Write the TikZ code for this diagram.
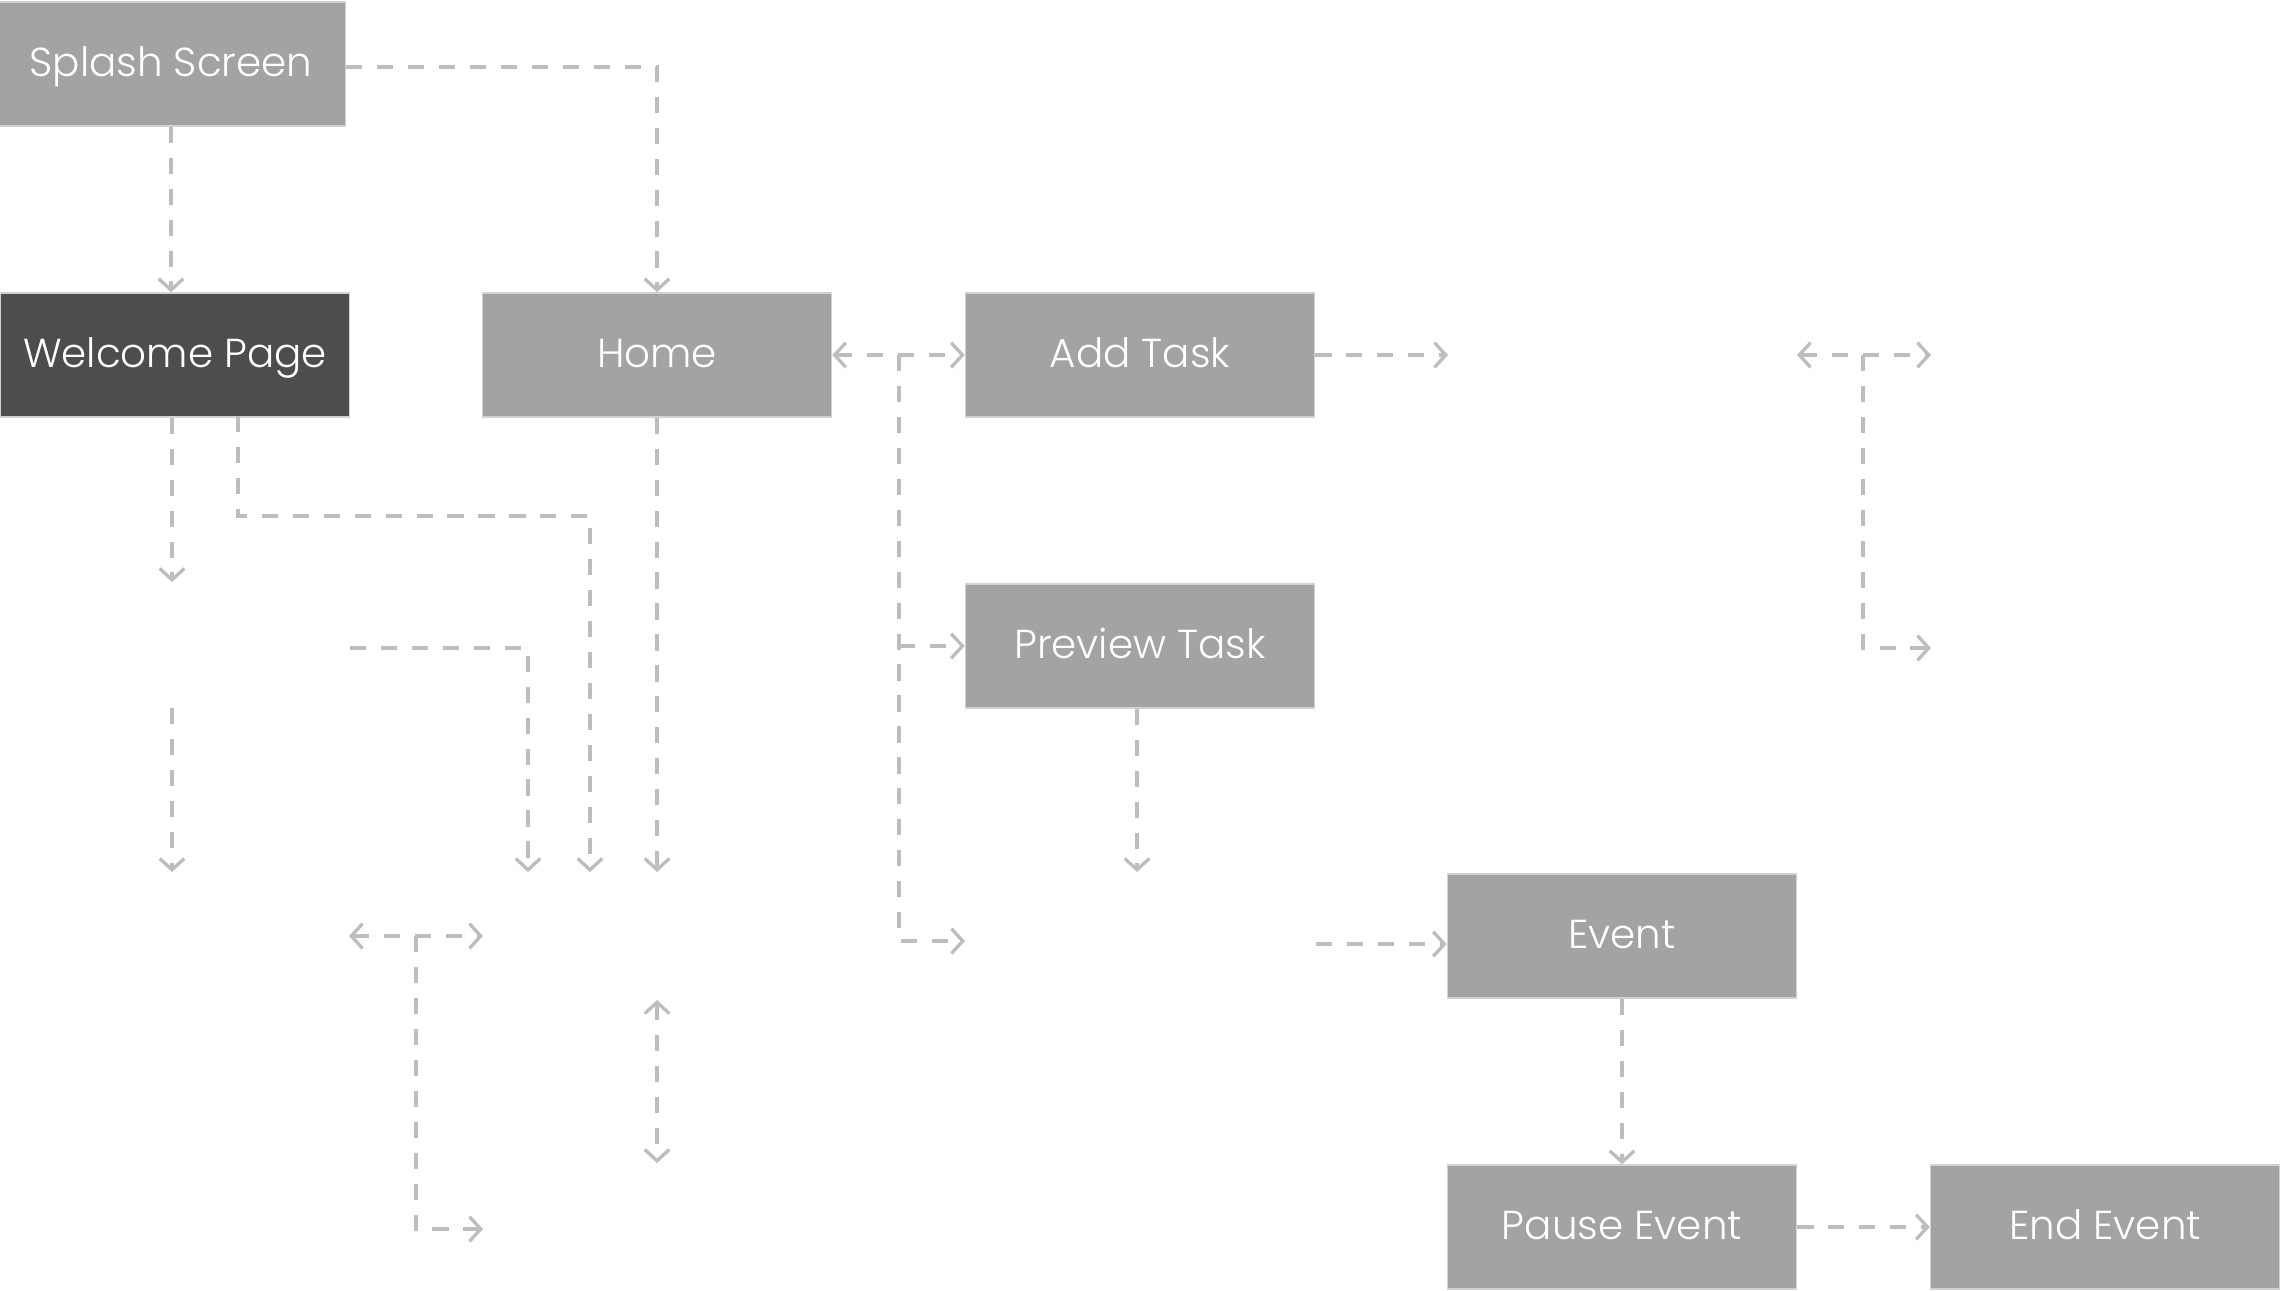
\documentclass[tikz,border=0pt]{standalone}
\usepackage{fontspec}
\setmainfont{Poppins}[UprightFont={* Light}]
\usetikzlibrary{arrows.meta}

\definecolor{boxgray}{HTML}{A3A3A3}
\definecolor{boxdark}{HTML}{4D4D4D}
\definecolor{boxedge}{HTML}{D2D2D2}
\definecolor{linkgray}{HTML}{BDBDBD}

\begin{document}
\begin{tikzpicture}[x=0.01cm, y=-0.01cm, >={Straight Barb[length=3.2pt, width=7pt]}, font=\fontsize{11.5}{14}\selectfont]
    \tikzstyle{screen}=[rectangle, minimum width=3.49cm, minimum height=1.24cm, inner sep=0pt, text height=0.7em, text depth=0pt, fill=boxgray, draw=boxedge, line width=0.4pt, text=white]  % grey screen boxes
    \tikzstyle{start screen}=[screen, fill=boxdark];
    \tikzstyle{link}=[draw=linkgray, line width=0.95pt, dash pattern=on 4.6pt off 4.2pt]

    \useasboundingbox (0,0) rectangle (2280,1290);

    % Screens
    \node[screen] (splash) at (171,64) {Splash Screen};
    \node[start screen] (welcome) at (175,355) {Welcome Page};
    \node[screen] (home) at (657,355) {Home};
    \node[screen] (addtask) at (1140,355) {Add Task};
    \node[screen] (preview) at (1140,646) {Preview Task};
    \node[screen] (event) at (1622,936) {Event};
    \node[screen] (pause) at (1622,1227) {Pause Event};
    \node[screen] (endevent) at (2105,1227) {End Event};

    % Loose ends (targets not shown)
    \coordinate (welcome-a) at (172,582);
    \coordinate (welcome-b) at (590,872);
    \coordinate (home-a) at (657,872);
    \coordinate (side-a) at (350,648);
    \coordinate (side-b) at (528,872);
    \coordinate (side-c) at (172,708);
    \coordinate (side-d) at (172,872);
    \coordinate (pair-l) at (349,936);
    \coordinate (pair-r) at (483,936);
    \coordinate (pair-m) at (416,936);
    \coordinate (pair-e) at (483,1229);
    \coordinate (updown-a) at (657,1000);
    \coordinate (updown-b) at (657,1163);
    \coordinate (task-m) at (899,355);
    \coordinate (task-e) at (965,941);
    \coordinate (add-e) at (1448,355);
    \coordinate (right-l) at (1797,355);
    \coordinate (right-r) at (1931,355);
    \coordinate (right-m) at (1863,355);
    \coordinate (right-e) at (1931,648);
    \coordinate (preview-e) at (1137,872);
    \coordinate (event-s) at (1316,944);

    % Splash screen
    \draw[link, ->] (splash.east |- 0,67) -| (home.north);
    \draw[link, ->] (splash.south) -- (splash.south |- welcome.north);

    % Welcome page
    \draw[link, ->] (welcome.south -| welcome-a) -- (welcome-a);
    \draw[link, ->] (238,416) |- (590,516) -- (welcome-b);

    % Home
    \draw[link, ->] (home.south) -- (home-a);
    \draw[link, <->] (home.east) -- (addtask.west);
    \draw[link, ->] (task-m) |- (task-e);
    \draw[link, ->] (task-m |- preview.west) -- (preview.west);

    % Loose links on the left
    \draw[link, ->] (side-a) -| (side-b);
    \draw[link, ->] (side-c) -- (side-d);
    \draw[link, <->] (pair-l) -- (pair-r);
    \draw[link, ->] (pair-m) |- (pair-e);
    \draw[link, <->] (updown-a) -- (updown-b);

    % Tasks
    \draw[link, ->] (addtask.east) -- (add-e);
    \draw[link, <->] (right-l) -- (right-r);
    \draw[link, ->] (right-m) |- (right-e);
    \draw[link, ->] (preview.south -| preview-e) -- (preview-e);

    % Events
    \draw[link, ->] (event-s) -- (event-s -| event.west);
    \draw[link, ->] (event.south) -- (pause.north);
    \draw[link, ->] (pause.east) -- (endevent.west);
\end{tikzpicture}
\end{document}
